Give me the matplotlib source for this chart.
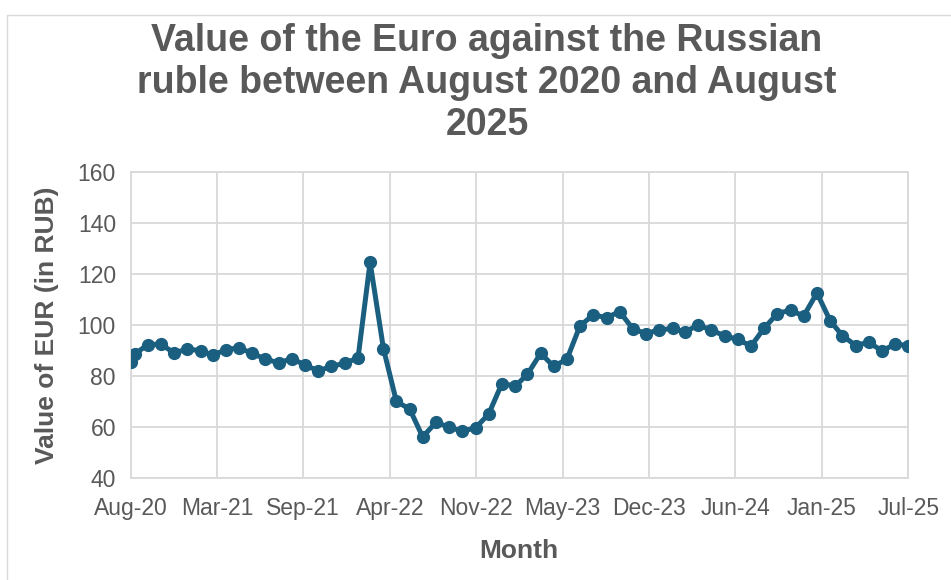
import matplotlib
matplotlib.use("Agg")
import matplotlib.pyplot as plt
import matplotlib.dates as mdates
from matplotlib.patches import Rectangle
import numpy as np
import pandas as pd

plt.rcParams["font.family"] = ["Liberation Sans", "DejaVu Sans"]

# Observation dates: one late-August 2020 reading, then the first of each month
obs_dates = ["2020-08-22"] + [
    f"{2020 + (8 + i) // 12}-{(8 + i) % 12 + 1:02d}-01" for i in range(60)
]

# EUR/RUB exchange rate (roubles per euro)
eur_rub = [
    85.5, 88.5, 92.3, 92.4, 89.0, 90.5, 89.9, 88.1, 90.3, 91.0,
    88.8, 86.6, 85.1, 86.8, 84.2, 82.0, 83.7, 85.0, 87.0, 124.5,
    90.7, 70.0, 67.0, 56.1, 61.8, 59.9, 58.3, 59.7, 65.0, 77.0,
    76.0, 80.6, 88.9, 83.7, 86.6, 99.6, 103.9, 102.8, 105.2, 98.4,
    96.6, 98.0, 98.6, 97.2, 100.0, 97.9, 95.7, 94.3, 91.7, 98.8,
    104.4, 105.8, 103.4, 112.5, 101.5, 95.8, 91.9, 93.2, 89.8, 92.4,
    91.9,
]

tick_labels = ["Aug-20", "Mar-21", "Sep-21", "Apr-22", "Nov-22",
               "May-23", "Dec-23", "Jun-24", "Jan-25", "Jul-25"]
y_ticks = [40, 60, 80, 100, 120, 140, 160]

text_color = "#595959"
grid_color = "#d9d9d9"
line_color = "#1a5e80"

W, H = 951, 580
fig = plt.figure(figsize=(W / 100, H / 100), dpi=100)

# light frame around the chart area
fig.patches.append(Rectangle((7 / W, -0.01), 1.2, 1 - 15 / H + 0.01,
                             transform=fig.transFigure, fill=False,
                             edgecolor=grid_color, linewidth=1.0))

ax = fig.add_axes([130.5 / W, 1 - 478 / H, (908.3 - 130.5) / W, (478 - 171.7) / H])

x = mdates.date2num(pd.to_datetime(obs_dates))
ax.plot(x, eur_rub, color=line_color, linewidth=3.6, marker="o",
        markersize=8.5, markerfacecolor=line_color, markeredgecolor=line_color,
        solid_joinstyle="round", zorder=3)

ax.set_xlim(x[0], x[-1])
ax.set_ylim(40, 160)
ax.set_xticks(np.linspace(x[0], x[-1], len(tick_labels)))
ax.set_xticklabels(tick_labels)
ax.set_yticks(y_ticks)

ax.grid(True, color=grid_color, linewidth=1.3)
ax.set_axisbelow(True)
for s in ax.spines.values():
    s.set_color(grid_color)
    s.set_linewidth(1.3)

ax.tick_params(axis="both", length=0, colors=text_color, labelsize=16.5)
ax.tick_params(axis="x", pad=13.5)
ax.tick_params(axis="y", pad=10.5)

# axis titles
fig.text(519 / W, 1 - 551 / H, "Month", ha="center", va="center",
         fontsize=19, fontweight="bold", color=text_color)
fig.text(47 / W, 1 - 325 / H, "Value of EUR (in RUB)", ha="center", va="center",
         rotation=90, fontsize=19, fontweight="bold", color=text_color)

fig.text(487 / W, 1 - 83 / H,
         "Value of the Euro against the Russian\nruble between August 2020 and August\n2025",
         ha="center", va="center", fontsize=27, fontweight="bold",
         color=text_color, linespacing=1.22)

fig.savefig("out.png", dpi=100)
